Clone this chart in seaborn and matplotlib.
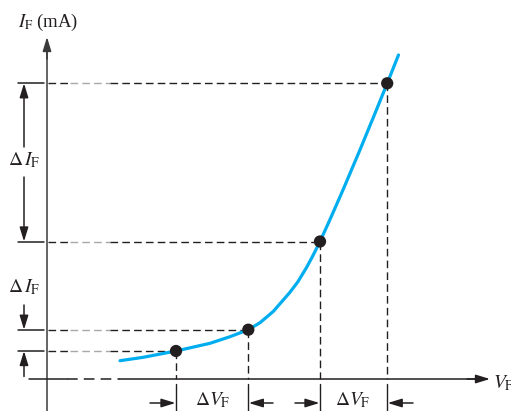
import matplotlib
matplotlib.use("Agg")
import matplotlib.pyplot as plt
import seaborn as sns
from matplotlib.patches import FancyArrowPatch

# ---- data (V in arbitrary units, I in arbitrary units) ----
curve_v = [7.30, 9.63, 12.90, 16.30, 18.30, 20.13, 21.30, 22.63, 24.30, 25.10,
           25.97, 26.60, 27.30, 28.30, 29.63, 31.30, 32.97, 34.02, 35.15]
curve_i = [1.83, 2.17, 2.80, 3.57, 4.23, 4.93, 5.63, 6.76, 8.68, 9.74,
           11.18, 12.35, 13.75, 15.95, 18.98, 22.92, 26.98, 29.57, 32.40]
pt_v = [12.90, 20.13, 27.30, 34.02]
pt_i = [2.80, 4.93, 13.75, 29.57]

axis_label_y = "$I_{\\mathrm{F}}$\u2009(mA)"
axis_label_x = "$V_{\\mathrm{F}}$"
delta_i_label = "$\\Delta\\,I_{\\mathrm{F}}$"
delta_v_label = "$\\Delta V_{\\mathrm{F}}$"

sns.set_style("white")
plt.rcParams["font.family"] = ["Liberation Serif", "DejaVu Serif"]
plt.rcParams["mathtext.fontset"] = "stix"

BLUE = "#00AEEF"
INK = "#231F20"
GRAY = "#A8A8A8"
AX = "#3a3a3a"
DASH = (0, (5.5, 3.0))

fig = plt.figure(figsize=(5.11, 4.11), dpi=100)
ax = fig.add_axes([0, 0, 1, 1])
ax.set_xlim(-4.7, 46.4)
ax.set_ylim(-3.2, 37.9)
ax.axis("off")


def arrow(p0, p1, color=INK, lw=1.1, hl=8.5, hw=2.6):
    a = FancyArrowPatch(p0, p1, arrowstyle=f"-|>,head_length={hl},head_width={hw}",
                        mutation_scale=1, shrinkA=0, shrinkB=0, color=color, lw=lw)
    ax.add_patch(a)


# axes
ax.plot([0, 0], [-3.2, 33.0], color=AX, lw=1.1)
arrow((0, 32.0), (0, 34.2), color=AX)
ax.plot([-1.8, 2.0], [0, 0], color=INK, lw=1.1)
ax.plot([2.0, 7.3], [0, 0], color=INK, lw=1.1, linestyle=(0, (7, 4)))
ax.plot([7.3, 43.0], [0, 0], color=INK, lw=1.1)
arrow((42.0, 0), (44.3, 0), color=INK)

# guide lines for each point
for v, i in zip(pt_v, pt_i):
    ax.plot([-2.9, -0.3], [i, i], color=INK, lw=1.1)
    ax.plot([0.1, 2.3], [i, i], color=INK, lw=1.0, linestyle=DASH)
    ax.plot([2.3, 6.3], [i, i], color=GRAY, lw=1.0, linestyle=DASH)
    ax.plot([6.3, v], [i, i], color=INK, lw=1.0, linestyle=DASH)
    ax.plot([v, v], [i, 0], color=INK, lw=1.0, linestyle=DASH)
    ax.plot([v, v], [-0.5, -3.2], color=INK, lw=1.0)

# curve and points
sns.lineplot(x=curve_v, y=curve_i, sort=False, color=BLUE, lw=2.3, ax=ax, zorder=4)
sns.scatterplot(x=pt_v, y=pt_i, s=78, color=INK, edgecolor="none", ax=ax, zorder=5)

# delta I arrows
xa = -2.3
arrow((xa, 23.2), (xa, pt_i[3]))
arrow((xa, 20.2), (xa, pt_i[2]))
arrow((xa, 7.4), (xa, pt_i[1]))
arrow((xa, 0.25), (xa, pt_i[0]))

# delta V arrows
ya = -2.4
arrow((10.3, ya), (pt_v[0] - 0.05, ya))
arrow((22.6, ya), (pt_v[1] + 0.05, ya))
arrow((24.8, ya), (pt_v[2] - 0.05, ya))
arrow((36.6, ya), (pt_v[3] + 0.05, ya))

# text
fs = 14
ax.text(-2.9, 35.2, axis_label_y, fontsize=13.5, ha="left", va="baseline", color=INK)
ax.text(44.6, -0.9, axis_label_x, fontsize=fs, ha="left", va="baseline", color=INK)
ax.text(xa, 21.9, delta_i_label, fontsize=fs, ha="center", va="center", color=INK,
        bbox=dict(facecolor="white", edgecolor="none", pad=1))
ax.text(xa, 9.2, delta_i_label, fontsize=fs, ha="center", va="center", color=INK)
ax.text(16.6, -2.65, delta_v_label, fontsize=fs, ha="center", va="baseline", color=INK)
ax.text(30.6, -2.65, delta_v_label, fontsize=fs, ha="center", va="baseline", color=INK)

fig.savefig("out.png", dpi=100)
